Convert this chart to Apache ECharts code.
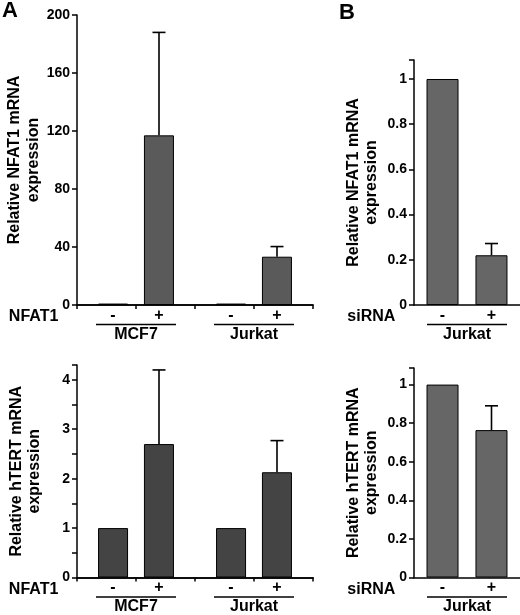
<!DOCTYPE html>
<html>
<head>
<meta charset="utf-8">
<script src="https://cdn.jsdelivr.net/npm/echarts@6/dist/echarts.min.js"></script>
<style>html,body{margin:0;padding:0;background:#fff}#c{width:520px;height:615px}</style>
</head>
<body>
<div id="c"></div>
<script>
// ---- data ----
const groupsA = ['MCF7', 'Jurkat'];
const groupsB = ['Jurkat'];
const treatment = ['-', '+'];
const treatLabelA = 'NFAT1';
const treatLabelB = 'siRNA';
// Panel A top: NFAT1 mRNA
const nfatA_minus = [1, 1];
const nfatA_plus = [117, 33.3];
const nfatA_plusSD = [71, 7];
// Panel A bottom: hTERT mRNA
const htertA_minus = [1, 1];
const htertA_plus = [2.7, 2.13];
const htertA_plusSD = [1.5, 0.64];
// Panel B top: NFAT1 mRNA
const nfatB_minus = [1.0];
const nfatB_plus = [0.22];
const nfatB_plusSD = [0.052];
// Panel B bottom: hTERT mRNA
const htertB_minus = [1.0];
const htertB_plus = [0.764];
const htertB_plusSD = [0.126];
// axis ticks
const ticksA1 = {min: 0, max: 200, interval: 40};
const ticksA2 = {min: 0, max: 4.3, interval: 0.5};
const ticksB1 = {min: 0, max: 1.084, interval: 0.2};
const ticksB2 = {min: 0, max: 1.086, interval: 0.2};

const FONT = 'Liberation Sans, Arial, sans-serif';
const chart = echarts.init(document.getElementById('c'), null, {renderer: 'canvas'});

const grids = [
  {left: 77, top: 15, width: 236, height: 290},
  {left: 414, top: 60, width: 115, height: 245},
  {left: 77, top: 365, width: 236, height: 218},
  {left: 414, top: 368, width: 115, height: 215}
];

function xLabel(w) {
  return {
    show: true, interval: 0, margin: 4,
    formatter: function (name) {
      return treatment.map(t => '{s|' + t + '}').join('') + '\n{ln| }\n{n|' + name + '}';
    },
    rich: {
      s: {width: w, align: 'center', fontSize: 16, fontWeight: 'bold', fontFamily: FONT, color: '#000', lineHeight: 13},
      ln: {width: 80, height: 1.5, backgroundColor: '#000', fontSize: 1, lineHeight: 5},
      n: {align: 'center', fontSize: 16, fontWeight: 'bold', fontFamily: FONT, color: '#000', lineHeight: 15}
    }
  };
}

function mainX(gi, cats, treatName, w) {
  return {
    type: 'category', gridIndex: gi, data: cats, position: 'bottom',
    axisLine: {show: true, lineStyle: {color: '#000', width: 1.5}},
    axisTick: {show: false},
    axisLabel: xLabel(w),
    name: '\n' + treatName, nameLocation: 'start', nameGap: 1,
    nameTextStyle: {fontSize: 16, fontWeight: 'bold', fontFamily: FONT, color: '#000', lineHeight: 24}
  };
}
function tickX(gi) {
  return {
    type: 'category', gridIndex: gi, data: ['', '', '', ''], position: 'bottom',
    axisLine: {show: true, lineStyle: {color: '#000', width: 1.5}},
    axisTick: {show: true, length: 4, lineStyle: {color: '#000', width: 1.5}},
    axisLabel: {show: false}
  };
}
function yAx(gi, t, name, fmt) {
  return {
    type: 'value', gridIndex: gi, min: t.min, max: t.max, interval: t.interval,
    splitLine: {show: false},
    axisLine: {show: true, lineStyle: {color: '#000', width: 1.5}},
    axisTick: {show: true, length: 5, lineStyle: {color: '#000', width: 1.5}},
    axisLabel: {margin: 7, fontSize: 14, fontWeight: 'bold', fontFamily: FONT, color: '#000', formatter: fmt},
    name: name, nameLocation: 'middle', nameRotate: 90, nameGap: 33,
    nameTextStyle: {fontSize: 16, fontWeight: 'bold', fontFamily: FONT, color: '#000', lineHeight: 18.5}
  };
}

function barSeries(xi, yi, data, color, bw, gap) {
  return {
    type: 'bar', xAxisIndex: xi, yAxisIndex: yi, data: data,
    barWidth: bw, barGap: gap,
    itemStyle: {color: color, borderColor: '#000', borderWidth: 1},
    silent: true, animation: false
  };
}
function errSeries(xi, yi, means, sds, offset) {
  return {
    type: 'custom', xAxisIndex: xi, yAxisIndex: yi, silent: true, animation: false, z: 5,
    data: means.map((m, i) => [i, m, sds[i]]),
    renderItem: function (params, api) {
      const base = api.coord([api.value(0), api.value(1)]);
      const top = api.coord([api.value(0), api.value(1) + api.value(2)]);
      const x = base[0] + offset;
      const st = {stroke: '#000', lineWidth: 1.6};
      return {type: 'group', children: [
        {type: 'line', shape: {x1: x, y1: base[1], x2: x, y2: top[1]}, style: st},
        {type: 'line', shape: {x1: x - 6.5, y1: top[1], x2: x + 6.5, y2: top[1]}, style: st}
      ]};
    }
  };
}

const fmtA1 = v => String(v);
const fmtA2 = v => (Math.abs(v - Math.round(v)) < 1e-6 ? String(Math.round(v)) : '');
const fmtB = v => (v > 1.0001 ? '' : String(+v.toFixed(1)));

const colA1 = '#5a5a5a', colA2 = '#444444', colB = '#666666';
const bwA = 30, gapA = '53%', offA = 23;
const bwB = 32, gapB = '53%', offB = 24.5;

chart.setOption({
  animation: false,
  backgroundColor: '#fff',
  textStyle: {fontFamily: FONT},
  grid: grids,
  xAxis: [
    mainX(0, groupsA, treatLabelA, 46), tickX(0),
    mainX(1, groupsB, treatLabelB, 49),
    mainX(2, groupsA, treatLabelA, 46), tickX(2),
    mainX(3, groupsB, treatLabelB, 49)
  ],
  yAxis: [
    yAx(0, ticksA1, 'Relative NFAT1 mRNA\nexpression', fmtA1),
    yAx(1, ticksB1, 'Relative NFAT1 mRNA\nexpression', fmtB),
    yAx(2, ticksA2, 'Relative hTERT mRNA\nexpression', fmtA2),
    yAx(3, ticksB2, 'Relative hTERT mRNA\nexpression', fmtB)
  ],
  series: [
    barSeries(0, 0, nfatA_minus, colA1, bwA, gapA),
    barSeries(0, 0, nfatA_plus, colA1, bwA, gapA),
    errSeries(0, 0, nfatA_plus, nfatA_plusSD, offA),
    barSeries(2, 1, nfatB_minus, colB, bwB, gapB),
    barSeries(2, 1, nfatB_plus, colB, bwB, gapB),
    errSeries(2, 1, nfatB_plus, nfatB_plusSD, offB),
    barSeries(3, 2, htertA_minus, colA2, bwA, gapA),
    barSeries(3, 2, htertA_plus, colA2, bwA, gapA),
    errSeries(3, 2, htertA_plus, htertA_plusSD, offA),
    barSeries(5, 3, htertB_minus, colB, bwB, gapB),
    barSeries(5, 3, htertB_plus, colB, bwB, gapB),
    errSeries(5, 3, htertB_plus, htertB_plusSD, offB)
  ],
  graphic: [
    {type: 'text', left: 2, top: 0, style: {text: 'A', fontSize: 22, fontWeight: 'bold', fontFamily: FONT, fill: '#000'}},
    {type: 'text', left: 339, top: 2, style: {text: 'B', fontSize: 22, fontWeight: 'bold', fontFamily: FONT, fill: '#000'}}
  ]
});
</script>
</body>
</html>
